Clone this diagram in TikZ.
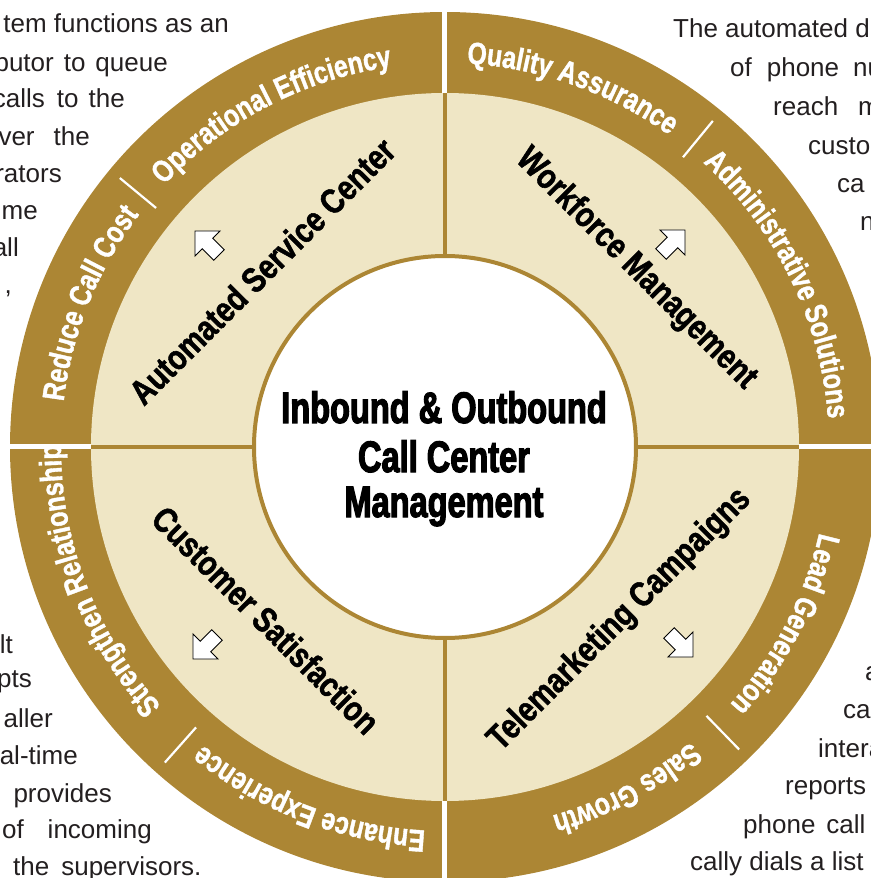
\documentclass[tikz,border=0pt]{standalone}
\usepackage{fontspec}
\setmainfont{Liberation Sans}
\usetikzlibrary{decorations.text}
\newfontfamily\ringfont{Liberation Sans}[FakeStretch=0.8, BoldFeatures={FakeBold=1.2}]
\newfontfamily\quadfont{Liberation Sans}[FakeStretch=0.82, BoldFeatures={FakeBold=1.4}]
\newfontfamily\titlefont{Liberation Sans}[FakeStretch=0.74, BoldFeatures={FakeBold=2.6}]
\definecolor{gold}{RGB}{172,134,52}
\definecolor{cream}{RGB}{239,230,197}
\definecolor{bodytext}{RGB}{35,31,32}
\newcommand\ringstyle{\ringfont\bfseries\fontsize{31}{33}\selectfont}
\newcommand\ringlabel[2]{%
  \path[decorate, decoration={text along path, text align=center, text color=white, text={|\ringstyle|#2}}]
    (#1+40:384pt) arc[start angle=#1+40, end angle=#1-40, radius=384pt];}
\newcommand\blockarrow[2]{%
  \draw[arrowshape, shift={#1}, rotate=#2] (17,0) -- (-0.7,17.7) -- (-0.7,7.4) -- (-17,7.4) -- (-17,-7.4) -- (-0.7,-7.4) -- (-0.7,-17.7) -- cycle;}
\begin{document}
\begin{tikzpicture}[x=1pt,y=1pt,
  bg/.style={font=\fontsize{26}{30}\selectfont, text=bodytext, inner sep=0pt},
  qtitle/.style={font=\quadfont\bfseries\fontsize{35}{38}\selectfont, inner sep=0pt},
  ttl/.style={font=\titlefont\bfseries\fontsize{44}{48}\selectfont, inner sep=0pt, anchor=base},
  slash/.style={white, line width=2.2pt},
  divider/.style={gold, line width=4.5pt},
  gap/.style={white, line width=5pt},
  arrowshape/.style={fill=white, draw=black, line width=0.9pt, line join=miter}]
\useasboundingbox (-445,-431) rectangle (425,447);

% background paragraphs
\node[bg, anchor=base east] (l1) at (-216,414) {tem functions as an};
\node[bg, anchor=base east] (l2) at (-277,375) {butor\hspace{10pt}to\hspace{10pt}queue};
\node[bg, anchor=base east] (l3) at (-320,339) {calls\hspace{12pt}to\hspace{10pt}the};
\node[bg, anchor=base east] (l4) at (-355,301) {ver\hspace{19pt}the};
\node[bg, anchor=base east] (l5) at (-383,264) {rators};
\node[bg, anchor=base east] (l6) at (-407,227) {ime};
\node[bg, anchor=base east] (l7) at (-426,190) {all};
\node[bg, anchor=base east] (l8) at (-433,153) {,};

\node[bg, anchor=base east] (b1) at (-432,-206) {lt};
\node[bg, anchor=base east] (b2) at (-413,-240) {pts};
\node[bg, anchor=base east] (b3) at (-392,-280) {aller};
\node[bg, anchor=base east] (b4) at (-367,-317) {al-time};
\node[bg, anchor=base east] (b5) at (-333,-355) {provides};
\node[bg, anchor=base east] (b6) at (-293,-391) {of\hspace{24pt}incoming};
\node[bg, anchor=base west] (b7) at (-432,-428) {the\hspace{12pt}supervisors.};

\node[bg, anchor=base west] (r1) at (228,409) {The automated dia};
\node[bg, anchor=base west] (r2) at (285,370) {of\hspace{15pt}phone\hspace{14pt}nu};
\node[bg, anchor=base west] (r3) at (328,331) {reach\hspace{20pt}m};
\node[bg, anchor=base west] (r4) at (363,292) {custo};
\node[bg, anchor=base west] (r5) at (392,254) {ca};
\node[bg, anchor=base west] (r6) at (415,216) {n};

\node[bg, anchor=base west] (s1) at (420,-233) {a};
\node[bg, anchor=base west] (s2) at (398,-271) {ca};
\node[bg, anchor=base west] (s3) at (373,-310) {intera};
\node[bg, anchor=base west] (s4) at (340,-347) {reports};
\node[bg, anchor=base west] (s5) at (298,-386) {phone\hspace{11pt}call};
\node[bg, anchor=base west] (s6) at (245,-423) {cally dials a list};

% rings
\fill[gold] (0,0) circle[radius=435pt];
\fill[cream] (0,0) circle[radius=354pt];
\foreach \a in {0,90,180,270} {
  \draw[divider] (\a:185pt) -- (\a:354pt);
  \draw[gap] (\a:354pt) -- (\a:440pt);
}
\draw[gold, line width=4pt, fill=white] (0,0) circle[radius=191pt];

% outer ring labels
\ringlabel{158}{Reduce Call Cost}
\ringlabel{117.5}{Operational Efficiency}
\ringlabel{70.5}{Quality Assurance}
\ringlabel{26}{Administrative Solutions}
\ringlabel{-27.5}{Lead Generation}
\ringlabel{-62}{Sales Growth}
\ringlabel{-111}{Enhance Experience}
\ringlabel{201}{Strengthen Relationship}
\foreach \a in {140.4,50.6,-45.8,-131.6}
  \draw[slash] (\a:375pt) -- (\a:422pt);

% quadrant titles
\node[qtitle, rotate=45] (asc) at (-183,176) {Automated Service Center};
\node[qtitle, rotate=-45] (wfm) at (191,178) {Workforce Management};
\node[qtitle, rotate=45] (tmc) at (175,-173) {Telemarketing Campaigns};
\node[qtitle, rotate=-45] (cus) at (-179,-173) {Customer Satisfaction};

% arrows
\blockarrow{(-238,204)}{135}
\blockarrow{(228,205)}{45}
\blockarrow{(-240,-200)}{225}
\blockarrow{(236,-198)}{-45}

% centre title
\node[ttl] (t1) at (-1,24) {Inbound \& Outbound};
\node[ttl] (t2) at (-1,-25) {Call Center};
\node[ttl] (t3) at (-1,-70) {Management};
\end{tikzpicture}
\end{document}
